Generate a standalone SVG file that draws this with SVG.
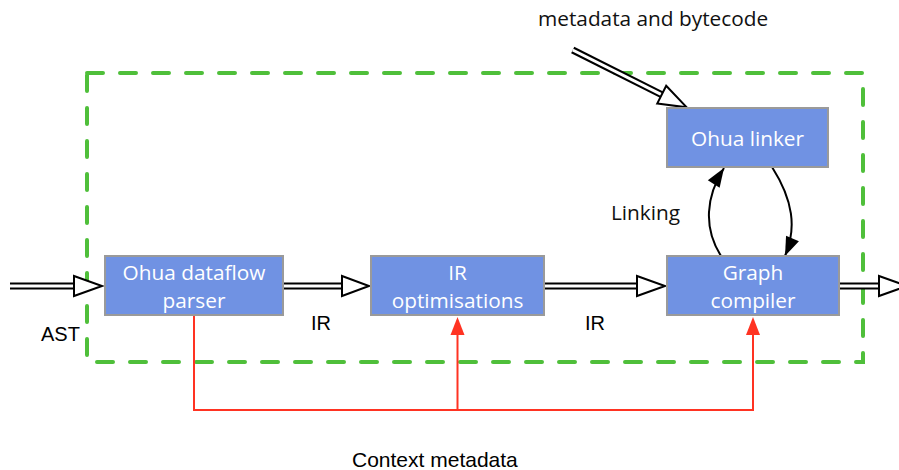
<svg xmlns="http://www.w3.org/2000/svg" width="899" height="470" viewBox="0 0 899 470">
<style>
.box{fill:#7092e3;stroke:#9a9a9a;stroke-width:2}
.bt{font-family:"Open Sans","Noto Sans",sans-serif;font-size:20.8px;fill:#ffffff;text-anchor:middle}
.lbl{font-family:"Open Sans","Noto Sans",sans-serif;font-size:20.8px;fill:#111111}
.hl{font-family:"Liberation Sans",Arial,sans-serif;font-size:20px;fill:#000000}
.ob{fill:none;stroke:#000;stroke-width:7}
.ib{fill:none;stroke:#fff;stroke-width:3}
.hd{fill:#fff;stroke:#000;stroke-width:2;stroke-linejoin:miter}
.red{fill:none;stroke:#ff3322;stroke-width:2}
.rh{fill:#ff3322}
.blk{fill:none;stroke:#000;stroke-width:2}
</style>
<defs>
<marker id="bh" markerUnits="userSpaceOnUse" markerWidth="24" markerHeight="20" refX="20" refY="8" orient="auto" viewBox="0 0 24 20">
<path d="M1,1 L20,8 L1,15 Z" fill="#000"/>
</marker>
</defs>
<rect x="87" y="73" width="776" height="289" fill="none" stroke="#4fbf3a" stroke-width="4" stroke-dasharray="16 17" stroke-linecap="round"/>
<g id="connectors">
<path class="ob" d="M10,286 H75"/><path class="ib" d="M10,286 H75"/>
<polygon class="hd" points="74,276 102,286 74,296"/>
<path class="ob" d="M283,286 H343"/><path class="ib" d="M283,286 H343"/>
<polygon class="hd" points="342,276 369,286 342,296"/>
<path class="ob" d="M544,286 H638"/><path class="ib" d="M544,286 H638"/>
<polygon class="hd" points="637,276 665,286 637,296"/>
<path class="ob" d="M839,286 H880"/><path class="ib" d="M839,286 H880"/>
<polygon class="hd" points="879,276 907,286 879,296"/>
<path class="ob" d="M572.7,50 L662.6,95.2"/><path class="ib" d="M572.7,50 L662.6,95.2"/>
<polygon class="hd" points="657.2,103.6 686.7,107.3 666.2,85.8"/>
<path class="blk" d="M721,256 C703,228 706,196 724,168" marker-end="url(#bh)"/>
<path class="blk" d="M772,167 C793,200 797,228 785,256" marker-end="url(#bh)"/>
<path class="red" d="M194,315 V410 H753 V333"/>
<path class="red" d="M457.5,410 V333"/>
<polygon class="rh" points="457.5,317 450.5,335 464.5,335"/>
<polygon class="rh" points="753,317 746,335 760,335"/>
</g>
<g id="parser">
<rect class="box" x="105" y="256" width="178" height="59"/>
<text class="bt" x="194" y="280">Ohua dataflow</text>
<text class="bt" x="194" y="308">parser</text>
</g>
<g id="iropt">
<rect class="box" x="371" y="256" width="173" height="59"/>
<text class="bt" x="457.5" y="280">IR</text>
<text class="bt" x="457.5" y="308">optimisations</text>
</g>
<g id="graphcompiler">
<rect class="box" x="667" y="256" width="172" height="59"/>
<text class="bt" x="753" y="280">Graph</text>
<text class="bt" x="753" y="308">compiler</text>
</g>
<g id="linker">
<rect class="box" x="667" y="108" width="161" height="59"/>
<text class="bt" x="747.5" y="146">Ohua linker</text>
</g>
<g id="labels">
<text class="lbl" x="538" y="26">metadata and bytecode</text>
<text class="lbl" x="611" y="220">Linking</text>
<text class="hl" x="41" y="341">AST</text>
<text class="hl" x="311" y="330">IR</text>
<text class="hl" x="585" y="330">IR</text>
<text class="hl" x="352" y="467" style="font-size:21px">Context metadata</text>
</g>
</svg>
